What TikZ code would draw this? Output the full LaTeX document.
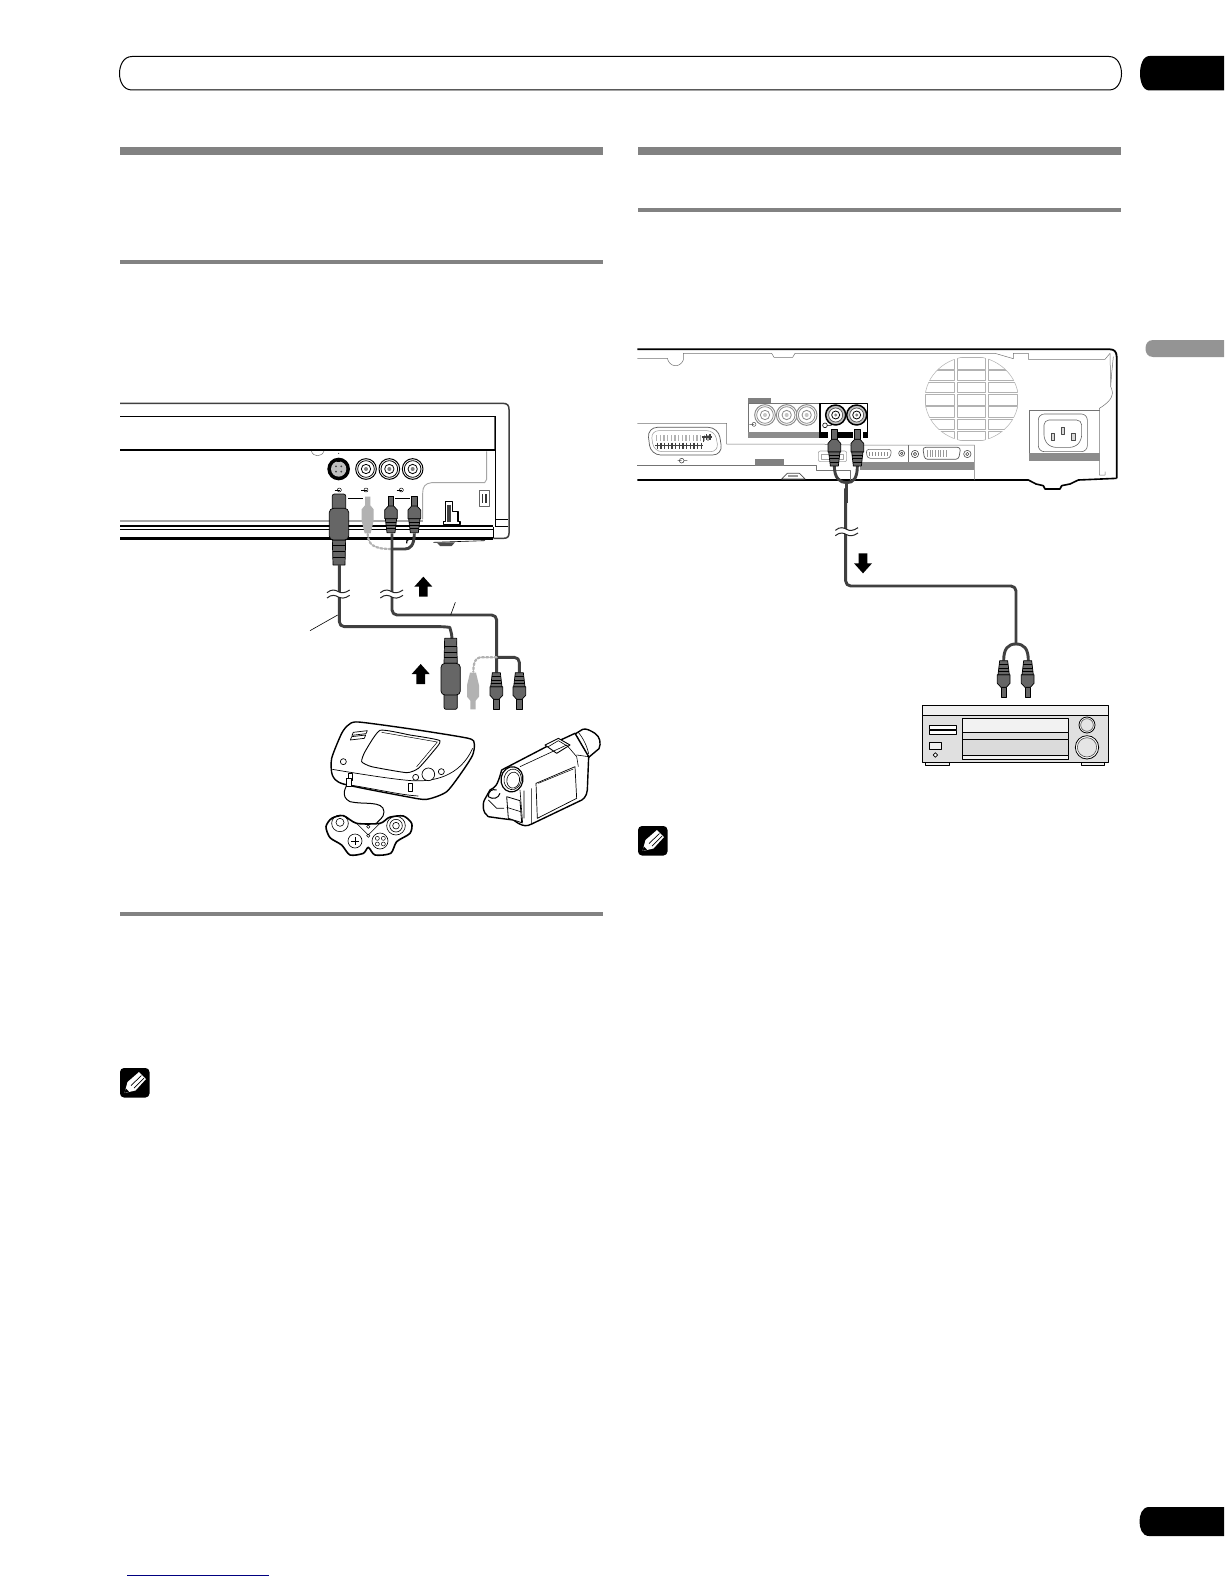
\documentclass[tikz,border=0pt]{standalone}
\begin{document}
\begin{tikzpicture}[x=1pt,y=-1pt,line join=round,
  zone/.style n args={2}{shift={(#1,#2)},x=0.33333pt,y=-0.33333pt},
  cable/.style={draw=black!75,line width=2.9pt,rounded corners=5pt},
  ghostcable/.style={draw=black!30,line width=2.2pt,dotted,line cap=round},
  fine/.style={draw=black,line width=0.6pt},
  hair/.style={draw=black!55,line width=0.5pt},
  plugfill/.style={fill=black!60,draw=black,line width=0.7pt},
  art/.style={draw=black,line width=1.1pt,fill=white}
]
\newcommand\rcaplug[3][]{\begin{scope}[shift={(#2,#3)},#1]
  \path[plugfill] (-8,0) rectangle (8,30);
  \path[plugfill] (-8,30) -- (-19,42) -- (-19,68) -- (19,68) -- (19,42) -- (8,30) -- cycle;
  \path[plugfill] (-17,68) -- (-12,110) -- (12,110) -- (17,68) -- cycle;
  \draw[black,line width=0.8pt] (-16,78) -- (16,78) (-15,88) -- (15,88) (-13.5,98) -- (13.5,98);
\end{scope}}
\newcommand\svidplug[3][]{\begin{scope}[shift={(#2,#3)},#1]
  \path[plugfill,rounded corners=2pt] (-20,0) rectangle (20,50);
  \path[plugfill] (-20,138) -- (-18,213) -- (18,213) -- (20,138) -- cycle;
  \draw[black,line width=0.8pt] (-20,155) -- (20,155) (-19,172) -- (19,172) (-19,190) -- (19,190);
  \path[plugfill,rounded corners=4pt] (-29,43) rectangle (29,138);
\end{scope}}
\newcommand\ghostplug[3][]{\begin{scope}[shift={(#2,#3)},#1]
  \fill[black!30] (-8,0) -- (8,0) -- (8,26) -- (18,38) -- (18,72) -- (9,110) -- (-9,110) -- (-18,72) -- (-18,38) -- (-8,26) -- cycle;
\end{scope}}
\newcommand\breakmark[2]{\begin{scope}[shift={(#1,#2)}]
  \fill[white] (-34,-7) rectangle (34,8);
  \draw[black!85,line width=1pt] (-34,-4) .. controls (-20,-16) and (-8,-12) .. (0,-7) .. controls (8,-2) and (20,-2) .. (34,-12);
  \draw[black!85,line width=1pt] (-34,12) .. controls (-20,0) and (-8,4) .. (0,9) .. controls (8,14) and (20,14) .. (34,4);
\end{scope}}
\newcommand\blockarrow[3][]{\begin{scope}[shift={(#2,#3)},#1]
  \fill[black] (0,0) -- (27,30) -- (13,30) -- (13,60) -- (-13,60) -- (-13,30) -- (-27,30) -- cycle;
\end{scope}}
\newcommand\rcajack[3][black]{\begin{scope}[shift={(#2,#3)}]
  \draw[#1,line width=1pt,fill=white] (0,0) circle[radius=31];
  \draw[#1,line width=0.8pt] (0,0) circle[radius=25];
  \draw[#1,line width=0.8pt] (0,0) circle[radius=14];
  \fill[#1,opacity=0.5] (0,0) circle[radius=6];
\end{scope}}
\newcommand\darkjack[2]{\begin{scope}[shift={(#1,#2)}]
  \draw[black,line width=1.5pt,fill=black!25] (0,0) circle[radius=30];
  \draw[black!70,line width=0.7pt,fill=white] (0,0) circle[radius=21];
  \draw[black,line width=0.8pt] (0,0) circle[radius=12];
  \fill[black!50] (0,0) circle[radius=5];
\end{scope}}
\newcommand\noteicon[2]{\begin{scope}[shift={(#1,#2)}]
  \fill[black,rounded corners=4pt] (0,0) rectangle (29.5,29.5);
  \fill[white] (4.5,25) -- (7.5,14) -- (19,4) -- (26,11) -- (15.5,22.5) -- cycle;
  \draw[black,line width=0.7pt] (11,17.5) -- (21.5,7.5) (14,20) -- (24,10);
  \fill[black] (4.5,25) -- (5.8,20.5) -- (9,23.6) -- cycle;
\end{scope}}
\newcommand\portglyph[2]{\begin{scope}[shift={(#1,#2)}]
  \draw[black,line width=0.5pt] (0,0) circle[radius=6];
  \draw[black,line width=0.7pt] (-14,0) -- (3,0);
\end{scope}}
\useasboundingbox (0,0) rectangle (1224,1584);
\fill[white] (0,0) rectangle (1224,1584);
% header pill and tabs
\draw[black,line width=1pt,fill=white] (132,56.5) -- (1109,56.5) .. controls (1118,56.5) and (1121.5,66) .. (1121.5,73.5) .. controls (1121.5,81) and (1118,90) .. (1109,90) -- (132,90) .. controls (123,90) and (119.5,81) .. (119.5,73.5) .. controls (119.5,66) and (123,56.5) .. (132,56.5) -- cycle;
\fill[black] (1224,56) -- (1149.5,56) .. controls (1142.5,56) and (1140,66) .. (1140,73.5) .. controls (1140,81) and (1142.5,90.5) .. (1149.5,90.5) -- (1224,90.5) -- cycle;
\fill[black!42] (1224,340) -- (1153,340) .. controls (1147,340) and (1145.5,345) .. (1145.5,348.5) .. controls (1145.5,352) and (1147,357) .. (1153,357) -- (1224,357) -- cycle;
\fill[black] (1224,1507) -- (1149,1507) .. controls (1142,1507) and (1139.5,1515) .. (1139.5,1521.5) .. controls (1139.5,1528) and (1142,1536) .. (1149,1536) -- (1224,1536) -- cycle;
% section rules
\fill[black!49] (120,147) rectangle (603,155);
\fill[black!49] (638,147) rectangle (1121,155);
\fill[black!49] (638,208) rectangle (1121,212);
\fill[black!49] (120,260) rectangle (603,264);
\fill[black!49] (120,912) rectangle (603,916);
\draw[blue!50!black,line width=1pt] (127,1575.5) -- (269,1575.5);
\noteicon{120}{1068}
\noteicon{638}{826}

% ---------- left device ----------
\begin{scope}[zone={100}{380}]
  \draw[black!75,line width=1.5pt] (60,70) -- (1208,70) .. controls (1222,70) and (1227,76) .. (1227,88) -- (1227,460) .. controls (1227,470) and (1222,475) .. (1210,475) -- (1180,475);
  \draw[black,line width=1.6pt] (60,110) -- (1187,110);
  \draw[black!60,line width=0.6pt] (1182,110) -- (1182,210);
  \draw[black,line width=0.7pt] (1187,110) -- (1187,440);
  \draw[black,line width=1.2pt] (60,210) -- (1187,210);
  \draw[black!55,line width=0.5pt] (634,213) .. controls (640,232) and (665,232) .. (672,213);
  \draw[black!35,line width=0.9pt] (1160,214) -- (1160,298) -- (1154,308) -- (995,308) .. controls (975,310) and (968,320) .. (968,340) -- (968,418);
  \draw[black!35,line width=2pt] (60,423) -- (968,423);
  \draw[black,line width=1.7pt] (60,437) -- (1180,437);
  \draw[black,line width=0.8pt] (60,447) -- (1180,447);
  \draw[black,line width=2.4pt] (60,475) -- (1178,475);
  \draw[black,line width=0.8pt] (1180,440) -- (1180,475) (1187,440) -- (1225,440) (1187,418) -- (1225,418);
  \draw[black,line width=0.6pt] (1000,487) -- (1155,482);
  \fill[black!70] (1010,487) -- (1065,487) -- (1055,498) -- (1020,498) -- cycle;
  % S-video jack
  \fill[black] (716,267) circle[radius=34];
  \fill[black!25] (716,267) circle[radius=23];
  \foreach \a in {45,135,225,315} \fill[black!75] (716,267) ++(\a:11) circle[radius=3];
  \fill[black] (711,238) rectangle (721,245);
  \fill[black] (716,220) circle[radius=1.5];
  \rcajack{798}{267}
  \rcajack{868}{267}
  \rcajack{938}{267}
  % glyphs
  \portglyph{718}{330}
  \portglyph{798}{330}
  \portglyph{904}{330}
  \draw[black,line width=0.7pt] (745,355) -- (790,355) (885,355) -- (930,355);
  % small socket and switch
  \draw[black!60,line width=0.7pt] (1137,330) rectangle (1167,380);
  \fill[black!80] (1145,343) rectangle (1150,370);
  \fill[black!80] (1156,343) rectangle (1161,370);
  \draw[black,line width=1.1pt,fill=white] (1036,364) -- (1058,364) -- (1058,395) -- (1074,395) -- (1074,425) -- (1080,425) -- (1080,434) -- (1030,434) -- (1030,425) -- (1036,425) -- cycle;
  \fill[black!75] (1042,375) rectangle (1052,425);
  % cables behind the plugs
  \draw[ghostcable] (803,462) .. controls (805,490) and (815,507) .. (873,507);
  \draw[cable] (873,507) -- (900,507) .. controls (930,507) and (943,497) .. (943,460);
  \draw[black,line width=1.2pt] (920,490) .. controls (918,482) and (922,478) .. (928,478);
  \ghostplug{803}{350}
  \svidplug{717}{342}
  \rcaplug{873}{348}
  \rcaplug{943}{348}
\end{scope}

% ---------- left cables, game console, camcorder ----------
\begin{scope}[zone={300}{570}]
  \draw[cable] (118,-15) -- (118,170) -- (435,170) .. controls (448,172) and (456,188) .. (456,206);
  \draw[cable] (276,-110) -- (276,135) -- (590,135) -- (590,308);
  \draw[cable] (590,262) -- (658,262) -- (658,308);
  \draw[ghostcable] (590,262) -- (540,262) .. controls (525,264) and (520,280) .. (520,305);
  \breakmark{115}{72}
  \breakmark{275}{72}
  \draw[fine] (30,182) -- (113,135);
  \draw[fine] (452,135) -- (466,97);
  \blockarrow{370}{20}
  \blockarrow{362}{282}
  \svidplug[yscale=-1]{452}{418}
  \ghostplug[yscale=-1]{519}{418}
  \rcaplug[yscale=-1]{589}{418}
  \rcaplug[yscale=-1]{658}{418}
  % console
  \draw[art,line width=1.4pt] plot[smooth cycle,tension=0.4] coordinates {(175,456) (340,478) (505,505) (523,522) (518,555) (490,600) (440,665) (380,688) (320,680) (130,642) (97,615) (95,565) (125,490) (145,465)};
  \draw[art,line width=0.9pt] plot[smooth cycle,tension=0.3] coordinates {(240,481) (330,495) (420,512) (395,550) (355,595) (320,608) (215,590) (185,575) (195,545)};
  \draw[black,line width=0.5pt] (245,487) -- (412,516) -- (350,590);
  \draw[black,line width=0.7pt] (97,598) .. controls (180,612) and (280,628) .. (335,632) .. controls (400,636) and (480,620) .. (518,535);
  \draw[black,line width=0.7pt] (130,642) .. controls (220,655) and (300,675) .. (355,678);
  \draw[art,line width=0.7pt] (160,487) -- (202,482) -- (198,491) -- (156,496) -- cycle;
  \draw[art,line width=0.7pt] (155,500) -- (197,495) -- (193,505) -- (151,510) -- cycle;
  \draw[art,line width=0.7pt] (130,575) circle[radius=9];
  \draw[art,line width=0.7pt] (385,613) circle[radius=19];
  \draw[art,line width=0.7pt] (424,605) circle[radius=9];
  \draw[art,line width=0.7pt] (347,622) circle[radius=9];
  \draw[art,line width=0.5pt] (145,610) rectangle (158,630);
  \draw[art,line width=0.5pt] (325,640) rectangle (338,665);
  % controller
  \draw[black,line width=1pt] (150,632) .. controls (135,650) and (120,680) .. (150,695) .. controls (190,705) and (250,690) .. (252,725) .. controls (252,745) and (235,750) .. (228,762);
  \draw[black,line width=0.7pt,fill=white] (140,625) rectangle (155,650);
  \draw[art,line width=1.6pt] plot[smooth cycle,tension=0.45] coordinates {(78,770) (95,745) (130,737) (170,760) (240,760) (268,742) (310,738) (335,760) (330,790) (290,815) (272,850) (225,855) (205,832) (190,850) (150,855) (125,825) (90,803)};
  \draw[black,line width=0.6pt] (120,760) circle[radius=25] (120,757) circle[radius=12];
  \draw[black,line width=0.6pt] (288,767) circle[radius=28] (288,767) circle[radius=19] (288,767) circle[radius=10];
  \draw[black,line width=0.6pt] (165,813) circle[radius=21] (240,813) circle[radius=24];
  \draw[black,line width=0.8pt] (153,813) -- (177,813) (165,801) -- (165,825);
  \foreach \p in {(232,805),(250,805),(232,822),(250,822)} \draw[black,line width=0.5pt] \p circle[radius=6];
  \draw[black,line width=0.5pt] (205,770) circle[radius=5] (205,797) circle[radius=5];
  \draw[black,line width=0.5pt] (170,760) -- (205,795) -- (240,760);
  % camcorder
  \draw[art,line width=1.4pt] (825,492) -- (848,478) .. controls (858,474) and (872,482) .. (885,490) .. controls (900,500) and (904,520) .. (897,536) -- (866,562) -- cycle;
  \draw[black,line width=0.6pt] (835,487) .. controls (850,505) and (862,530) .. (866,552);
  \draw[art,line width=1.4pt] (605,600) -- (745,527) -- (825,490) -- (866,560) -- (862,660) .. controls (860,680) and (850,690) .. (835,695) -- (695,762) .. controls (680,770) and (670,768) .. (655,760) -- (640,750) -- (600,745) -- (565,740) .. controls (548,730) and (545,700) .. (556,685) -- (570,660) .. controls (585,650) and (590,655) .. (605,600) -- cycle;
  \draw[art,line width=0.9pt] (735,525) -- (775,505) -- (810,525) -- (770,550) -- cycle;
  \draw[black,line width=0.6pt] (745,530) -- (775,512) -- (800,527);
  \draw[black,line width=0.6pt] (660,590) -- (800,525) (800,525) -- (830,560) -- (835,590) (830,555) -- (866,560);
  \draw[art,line width=0.7pt] (708,640) -- (825,590) -- (830,685) -- (712,745) -- cycle;
  \draw[black,line width=0.5pt] (715,640) -- (820,597);
  \draw[black,line width=0.6pt] (672,662) -- (672,745) (695,655) -- (695,762) (660,660) -- (668,760);
  \draw[art,line width=1.2pt,rotate around={-10:(636,628)}] (636,628) ellipse[x radius=33,y radius=38];
  \draw[black,line width=0.6pt,rotate around={-10:(638,628)}] (638,628) ellipse[x radius=26,y radius=31] (640,630) ellipse[x radius=19,y radius=24];
  \draw[art,line width=0.8pt] (620,680) -- (660,692) -- (665,758) -- (625,745) -- cycle;
  \draw[black,line width=0.6pt] (620,712) -- (662,725);
  \draw[black,line width=1pt] (590,660) .. controls (575,655) and (565,665) .. (565,680) .. controls (580,690) and (595,685) .. (600,670);
  \draw[black,line width=0.8pt] (565,690) -- (590,715) -- (612,715);
\end{scope}

% ---------- right device ----------
\begin{scope}[zone={630}{340}]
  \draw[black,line width=1.8pt] (22,28) -- (1440,28) .. controls (1452,28) and (1460,35) .. (1460,50) -- (1460,415);
  \draw[black,line width=1.6pt] (22,420) -- (1195,420) -- (1218,432) -- (1240,437) -- (1245,447) -- (1290,447) -- (1295,437) -- (1320,432) -- (1345,420) -- (1460,415);
  \draw[hair] (22,55) -- (112,55) .. controls (118,82) and (150,85) .. (160,60) -- (160,40) -- (425,40) -- (432,52) -- (488,52) -- (495,40) -- (1095,40) -- (1150,56) -- (1150,40) -- (1195,40) -- (1195,58) -- (1425,58) -- (1440,40);
  \draw[hair] (1440,40) -- (1442,140) .. controls (1452,160) and (1450,180) .. (1408,205) -- (1408,405) -- (1425,405) -- (1425,395) (1442,140) -- (1445,100) -- (1450,50);
  % fan grille
  \foreach \xa/\xb in {885/972,982/1065,1075/1163}
    \foreach \ya/\yb in {52/88,92/122,127/157,163/195,200/232,237/268,273/302} {
      \begin{scope}
        \clip (1025,177) ellipse[x radius=140,y radius=128];
        \draw[black!30,line width=0.5pt] (\xa,\ya) rectangle (\xb,\yb);
      \end{scope}
      \begin{scope}
        \clip (\xa,\ya) rectangle (\xb,\yb);
        \draw[black!30,line width=0.5pt] (1025,177) ellipse[x radius=140,y radius=128];
      \end{scope}
    }
  % power inlet
  \draw[hair] (1197,338) -- (1197,212) -- (1410,212);
  \fill[black!45] (1197,338) rectangle (1410,362);
  \draw[black!60,line width=0.6pt,rounded corners=6pt] (1225,222) rectangle (1372,335);
  \draw[black!60,line width=0.6pt,rounded corners=5pt] (1242,240) -- (1355,240) -- (1355,300) -- (1335,322) -- (1262,322) -- (1242,300) -- cycle;
  \draw[black!70,line width=0.6pt,fill=black!15] (1264,280) rectangle (1274,300);
  \draw[black!70,line width=0.6pt,fill=black!15] (1293,262) rectangle (1303,282);
  \draw[black!70,line width=0.6pt,fill=black!15] (1325,280) rectangle (1335,300);
  % jack blocks
  \fill[black!50] (355,175) rectangle (423,190);
  \draw[hair] (355,190) rectangle (570,293);
  \fill[black!45] (355,276) rectangle (570,293);
  \rcajack[black!45]{405}{225}
  \rcajack[black!45]{470}{225}
  \rcajack[black!45]{530}{225}
  \draw[black!70,line width=0.5pt] (372,253) circle[radius=6] (358,253) -- (372,253);
  \draw[black,line width=1.4pt] (570,190) -- (713,190) -- (713,295) (570,190) -- (570,295);
  \darkjack{617}{225}
  \darkjack{680}{225}
  \draw[black,line width=0.6pt] (585,256) circle[radius=7] (592,256) -- (605,256);
  \fill[black] (573,275) rectangle (595,295);
  \fill[black] (625,275) rectangle (668,295);
  \fill[black] (700,275) rectangle (713,295);
  % scart
  \draw[hair] (22,250) -- (290,250) -- (290,312) -- (560,312) -- (660,315) -- (1033,315) -- (1033,420);
  \draw[hair] (22,375) -- (560,375) -- (560,390) -- (660,390) -- (660,420);
  \draw[black!65,line width=0.7pt,rounded corners=10pt] (52,262) -- (265,262) -- (278,345) -- (62,345) -- cycle;
  \draw[black!40,line width=0.5pt,rounded corners=8pt] (62,272) -- (255,272) -- (266,335) -- (72,335) -- cycle;
  \foreach \k in {0,...,14} \draw[black!30,line width=1.4pt] (80+\k*11,285) -- (80+\k*11,303);
  \foreach \k in {0,...,12} \draw[black!75,line width=1.4pt] (82+\k*11,308) -- (82+\k*11,326);
  \draw[black!75,line width=1.4pt] (76,316) -- (220,316);
  \draw[black!75,line width=1.4pt] (220,290) -- (220,306) (230,282) -- (230,300) (240,282) -- (240,300) (215,291) -- (245,291);
  \fill[black!50] (375,358) rectangle (463,378);
  \draw[black!70,line width=0.6pt] (155,362) circle[radius=7] (143,362) -- (155,362) (162,362) -- (172,362);
  \draw[black!70,line width=0.7pt,fill=white] (455,417) -- (472,400) -- (508,400) -- (525,417) -- cycle;
  \fill[black!40] (475,405) rectangle (505,412);
  % connectors
  \draw[black!35,line width=0.6pt,rounded corners=2pt] (565,333) rectangle (650,365);
  \draw[black!35,line width=0.5pt] (575,342) rectangle (640,358);
  \draw[hair] (835,315) -- (835,390);
  \fill[black!45] (690,365) rectangle (1033,390);
  \draw[black!60,line width=0.6pt,rounded corners=3pt] (708,328) -- (785,328) -- (780,355) -- (712,355) -- cycle;
  \foreach \k in {0,...,6} \draw[black!45,line width=0.8pt] (718+\k*9,336) -- (718+\k*9,348);
  \draw[black!70,line width=0.6pt] (815,340) circle[radius=9] (815,340) circle[radius=4];
  \draw[black!70,line width=0.6pt] (855,342) circle[radius=11] (855,342) circle[radius=5];
  \draw[black!70,line width=0.6pt] (1012,342) circle[radius=11] (1012,342) circle[radius=5];
  \draw[black!65,line width=0.7pt,rounded corners=3pt] (878,322) -- (992,322) -- (986,358) -- (884,358) -- cycle;
  \foreach \k in {0,...,7} \draw[black!40,line width=1pt] (892+\k*8,330) -- (892+\k*8,350);
  % cable and plugs
  \draw[cable,rounded corners=0pt] (613,378) .. controls (613,415) and (630,428) .. (650,428) .. controls (670,428) and (682,415) .. (682,378);
  \draw[cable,rounded corners=0pt] (650,428) -- (650,490);
  \rcaplug{613}{268}
  \rcaplug{682}{268}
\end{scope}

% ---------- right cable and receiver ----------
\begin{scope}[zone={800}{480}]
  \draw[cable] (137,25) -- (137,318) -- (648,318) -- (648,490);
  \draw[cable,rounded corners=0pt] (611,542) .. controls (611,505) and (625,492) .. (648,492) .. controls (671,492) and (685,505) .. (685,542);
  \breakmark{140}{155}
  \blockarrow[yscale=-1]{189}{280}
  \rcaplug[yscale=-1]{611}{652}
  \rcaplug[yscale=-1]{683}{652}
  % receiver
  \draw[black,line width=0.8pt,fill=black!6] (375,848) rectangle (447,857);
  \draw[black,line width=0.8pt,fill=black!6] (844,848) rectangle (914,857);
  \draw[black,line width=1pt,fill=black!12] (367,676) rectangle (926,848);
  \draw[black,line width=0.8pt,fill=black!6] (367,676) rectangle (926,706);
  \draw[black,line width=0.9pt,fill=black!5] (487,715) rectangle (806,757);
  \draw[black,line width=0.9pt,fill=black!12] (487,757) rectangle (806,778);
  \draw[black,line width=0.9pt,fill=black!14] (487,778) rectangle (806,826);
  \draw[black,line width=0.9pt,fill=black!4] (487,826) rectangle (806,838);
  \draw[black,line width=0.8pt,fill=white] (388,736) rectangle (470,747);
  \draw[black,line width=0.8pt,fill=white] (388,752) rectangle (470,764);
  \draw[black,line width=0.8pt,fill=black!6] (388,787) rectangle (425,808);
  \draw[black,line width=0.7pt,fill=white] (399,825) -- (406,818) -- (413,825) -- (406,832) -- cycle;
  \draw[black,line width=0.8pt,fill=white] (861,735) circle[radius=24];
  \draw[black!70,line width=0.6pt,fill=black!10] (861,735) circle[radius=19];
  \draw[black,line width=0.8pt,fill=white] (861,802) circle[radius=35];
  \draw[black!70,line width=0.6pt,fill=black!10] (861,802) circle[radius=29];
\end{scope}
\end{tikzpicture}
\end{document}
